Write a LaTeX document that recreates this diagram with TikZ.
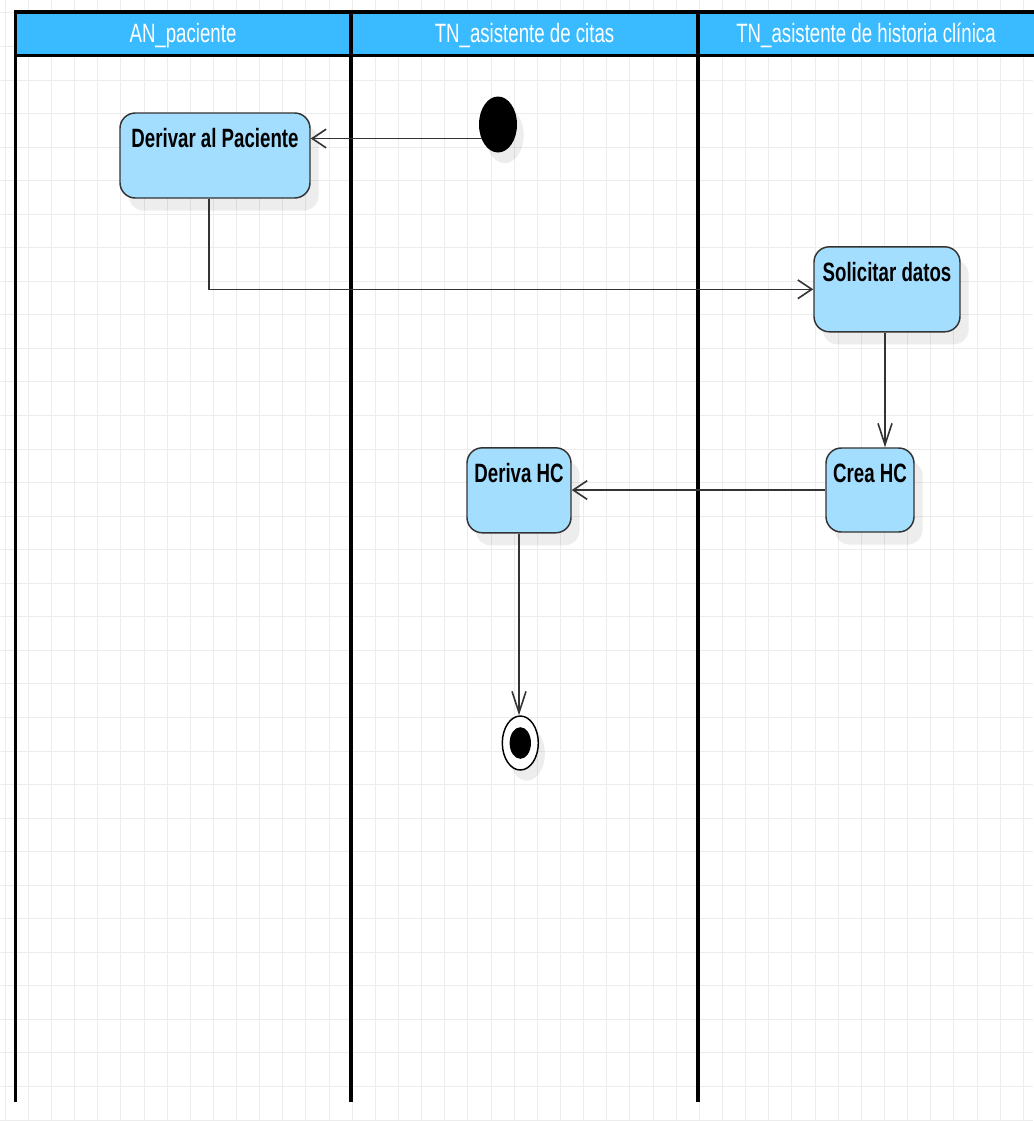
\documentclass[tikz,border=0pt]{standalone}
\usepackage{fontspec}
\usepackage{graphicx}
\setmainfont{Liberation Sans}
\usetikzlibrary{arrows.meta,calc,shapes.geometric,shadows}

\definecolor{lanehead}{HTML}{3BBBFF}
\definecolor{actfill}{HTML}{A3DEFF}
\definecolor{gridgray}{HTML}{ECECEC}
\definecolor{wire}{HTML}{333333}

% labels are drawn taller than wide, as on the canvas
\newcommand{\tallText}[1]{\scalebox{1}[1.42]{#1}}

\tikzset{
  lane/.style={line width=2.6pt, black},
  lanetitle/.style={anchor=base, text=white, inner sep=0pt,
    font=\fontsize{14}{16}\selectfont},
  act/.style={rectangle, draw=wire, line width=1.1pt, fill=actfill,
    rounded corners=11.5pt, inner sep=0pt,
    drop shadow={shadow xshift=6.5pt, shadow yshift=-9.5pt, fill=black, opacity=0.07}},
  acttext/.style={anchor=base, text=black, inner sep=0pt,
    font=\bfseries\fontsize{14}{16}\selectfont},
  startdot/.style={ellipse, fill=black, inner sep=0pt,
    minimum width=28.5pt, minimum height=42pt,
    drop shadow={shadow xshift=5pt, shadow yshift=-8pt, fill=black, opacity=0.07}},
  endring/.style={ellipse, draw=black, line width=1.1pt, fill=white, inner sep=0pt,
    minimum width=27pt, minimum height=40.5pt,
    drop shadow={shadow xshift=5pt, shadow yshift=-8pt, fill=black, opacity=0.07}},
  enddot/.style={ellipse, fill=black, inner sep=0pt,
    minimum width=16pt, minimum height=23.7pt},
  conn/.style={draw=wire, line width=1.2pt},
  harrow/.style={-{Straight Barb[length=10.5pt, width=14pt, line width=1.2pt]}},
  varrow/.style={-{Straight Barb[length=16pt, width=10.5pt, line width=1.2pt]}},
}

\begin{document}
\begin{tikzpicture}[x=0.75pt, y=-0.75pt]
\useasboundingbox (0,0) rectangle (1033,1121);
\fill[white] (0,0) rectangle (1033,1121);

% background grid
\begin{scope}
  \clip (0,0) rectangle (1033,1121);
  \foreach \k in {0,...,44}
    \draw[gridgray, line width=0.75pt] ({5.16+23.14*\k},0) -- ++(0,1121);
  \foreach \k in {0,...,33}
    \draw[gridgray, line width=0.75pt] (0,{12.9+33.55*\k}) -- ++(1033,0);
\end{scope}

% swimlanes
\fill[lanehead] (15.6,12) rectangle (1040,55.3);
\draw[lane] (1040,12) -- (15.6,12) -- (15.6,1102);
\draw[lane] (15.6,55.3) -- (1040,55.3);
\draw[lane] (351,12) -- (351,1102);
\draw[lane] (698,12) -- (698,1102);

\node[lanetitle] (h1) at (183,42.7) {\tallText{AN\_paciente}};
\node[lanetitle] (h2) at (524.5,42.7) {\tallText{TN\_asistente de citas}};
\node[lanetitle] (h3) at (866,42.7) {\tallText{TN\_asistente de historia clínica}};

% activities
\node[startdot] (start) at (498,124.5) {};

\node[act, minimum width=142.5pt, minimum height=63.75pt] (der) at (215,155.5) {};
\node[acttext] (dertxt) at ($(der.north)+(0,35.3)$) {\tallText{Derivar al Paciente}};

\node[act, minimum width=109.5pt, minimum height=63.75pt] (sol) at (887,289.3) {};
\node[acttext] (soltxt) at ($(sol.north)+(0,35)$) {\tallText{Solicitar datos}};

\node[act, minimum width=66pt, minimum height=63pt] (crea) at (870,490) {};
\node[acttext] (creatxt) at ($(crea.north)+(0,35)$) {\tallText{Crea HC}};

\node[act, minimum width=78pt, minimum height=63.75pt] (dhc) at (519,490.3) {};
\node[acttext] (dhctxt) at ($(dhc.north)+(0,35)$) {\tallText{Deriva HC}};

\node[endring] (end) at (520.3,743) {};
\node[enddot] (endin) at (end.center) {};

% flows
\draw[conn, harrow] ($(start.west)+(3,14)$) coordinate (s0) -- (s0 -| der.east);
\draw[conn, harrow] ($(der.south)+(-6,0)$) |- (sol.west);
\draw[conn, varrow] ($(sol.south)+(-2,0)$) coordinate (s1) -- (s1 |- crea.north);
\draw[conn, harrow] (crea.west) -- (crea.west -| dhc.east);
\draw[conn, varrow] (dhc.south) -- (dhc.south |- end.north);
\end{tikzpicture}
\end{document}
